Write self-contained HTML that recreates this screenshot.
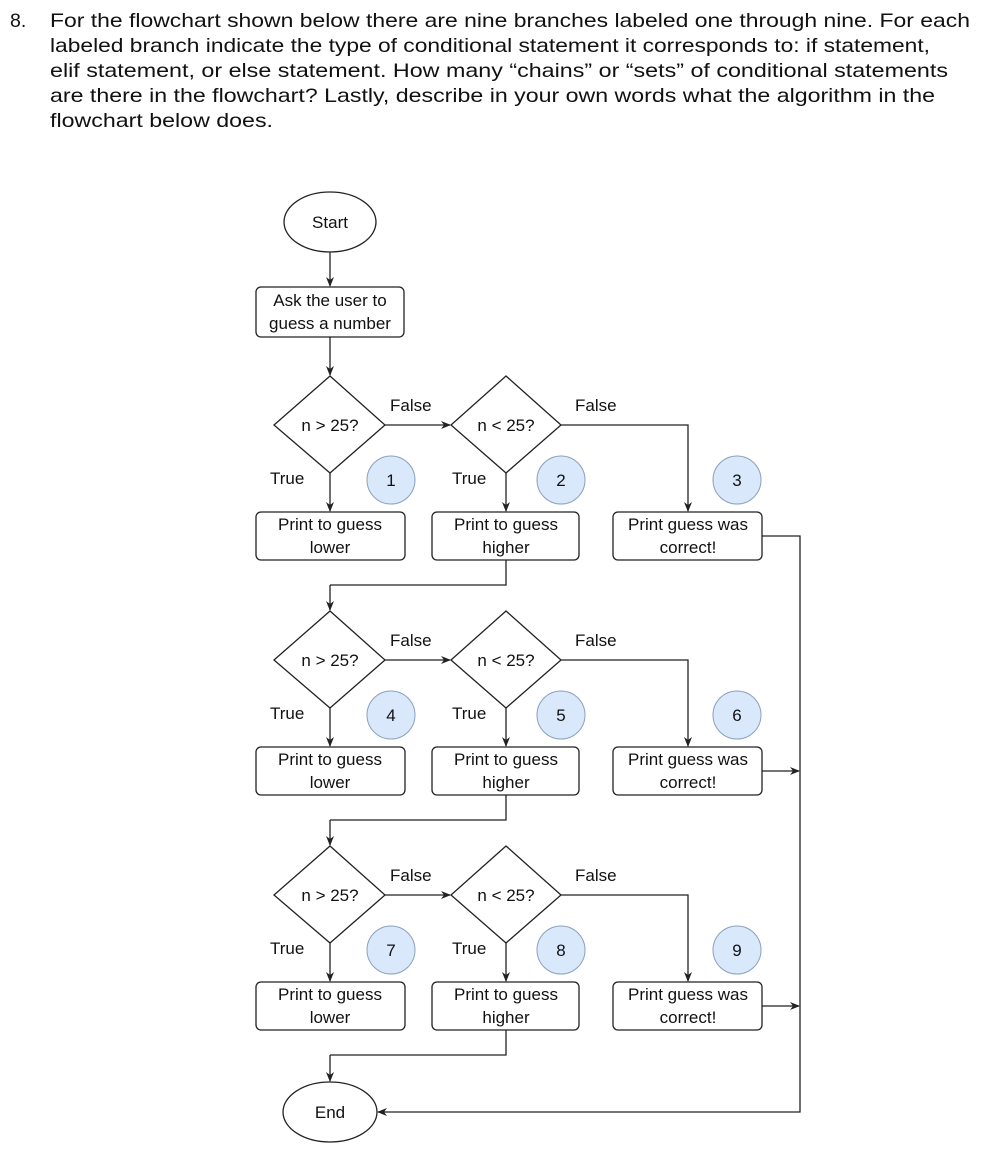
<!DOCTYPE html>
<html><head><meta charset="utf-8"><style>
html,body{margin:0;padding:0;background:#fff}
svg{display:block}
text{font-family:"Liberation Sans",Arial,sans-serif;fill:#111}
</style></head><body>
<svg width="984" height="1150" viewBox="0 0 984 1150" xmlns="http://www.w3.org/2000/svg">
<defs>
<marker id="a" markerWidth="10" markerHeight="10" refX="9" refY="5" orient="auto" markerUnits="userSpaceOnUse">
<path d="M0,1 L10,5 L0,9 L3,5 Z" fill="#222"/></marker>
</defs>
<g font-size="19.5">
<text x="10" y="27">8.</text>
<text x="50" y="27" textLength="920" lengthAdjust="spacingAndGlyphs">For the flowchart shown below there are nine branches labeled one through nine. For each</text>
<text x="50" y="52" textLength="880" lengthAdjust="spacingAndGlyphs">labeled branch indicate the type of conditional statement it corresponds to: if statement,</text>
<text x="50" y="77" textLength="898" lengthAdjust="spacingAndGlyphs">elif statement, or else statement. How many “chains” or “sets” of conditional statements</text>
<text x="50" y="102" textLength="885" lengthAdjust="spacingAndGlyphs">are there in the flowchart? Lastly, describe in your own words what the algorithm in the</text>
<text x="50" y="127" textLength="223" lengthAdjust="spacingAndGlyphs">flowchart below does.</text>
</g>
<g stroke="#222" stroke-width="1.3" fill="none">
<ellipse cx="330" cy="222" rx="46" ry="30" fill="#fff"/>
<rect x="256" y="287" width="148" height="50" rx="5" fill="#fff"/>
<line x1="330" y1="252" x2="330" y2="286" marker-end="url(#a)"/>
<line x1="330" y1="337" x2="330" y2="375" marker-end="url(#a)"/>
<ellipse cx="330" cy="1112" rx="47" ry="30" fill="#fff"/>
<polyline points="762,536 800,536 800,1112 378,1112" marker-end="url(#a)"/>
</g>
<text x="330" y="228" font-size="17" text-anchor="middle">Start</text>
<text x="330" y="306" font-size="17" text-anchor="middle">Ask the user to</text>
<text x="330" y="329" font-size="17" text-anchor="middle">guess a number</text>
<text x="330" y="1118" font-size="17" text-anchor="middle">End</text>

<g id="row">
<g stroke="#222" stroke-width="1.3" fill="none">
<polygon points="330,376 385,425 330,473 274,425" fill="#fff"/>
<polygon points="506,376 561,425 506,473 451,425" fill="#fff"/>
<line x1="385" y1="425" x2="450" y2="425" marker-end="url(#a)"/>
<polyline points="561,425 688,425 688,511" marker-end="url(#a)"/>
<line x1="330" y1="473" x2="330" y2="511" marker-end="url(#a)"/>
<line x1="506" y1="473" x2="506" y2="511" marker-end="url(#a)"/>
<rect x="256" y="512" width="149" height="48" rx="5" fill="#fff"/>
<rect x="432" y="512" width="147" height="48" rx="5" fill="#fff"/>
<rect x="613" y="512" width="149" height="48" rx="5" fill="#fff"/>
<polyline points="506,560 506,585 330,585"/>
</g>
<g fill="#dae8fc" stroke="#8aa0bb" stroke-width="1">
<circle cx="391" cy="480" r="24"/><circle cx="561" cy="480" r="24"/><circle cx="737" cy="480" r="24"/>
</g>
<g font-size="17">
<text x="330" y="431" text-anchor="middle">n &gt; 25?</text>
<text x="506" y="431" text-anchor="middle">n &lt; 25?</text>
<text x="390" y="411">False</text>
<text x="575" y="411">False</text>
<text x="270" y="484">True</text>
<text x="452" y="484">True</text>
<text x="330" y="530" text-anchor="middle">Print to guess</text>
<text x="330" y="553" text-anchor="middle">lower</text>
<text x="506" y="530" text-anchor="middle">Print to guess</text>
<text x="506" y="553" text-anchor="middle">higher</text>
<text x="688" y="530" text-anchor="middle">Print guess was</text>
<text x="688" y="553" text-anchor="middle">correct!</text>
</g>
</g>
<g font-size="17" text-anchor="middle">
<text x="391" y="486">1</text><text x="561" y="486">2</text><text x="737" y="486">3</text>
</g>

<g transform="translate(0,235)">
<use href="#row"/>
<g stroke="#222" stroke-width="1.3" fill="none">
<line x1="330" y1="350" x2="330" y2="375" marker-end="url(#a)"/>
<line x1="762" y1="536" x2="799" y2="536" marker-end="url(#a)"/>
</g>
<g font-size="17" text-anchor="middle">
<text x="391" y="486">4</text><text x="561" y="486">5</text><text x="737" y="486">6</text>
</g>
</g>
<g transform="translate(0,470)">
<use href="#row"/>
<g stroke="#222" stroke-width="1.3" fill="none">
<line x1="330" y1="350" x2="330" y2="375" marker-end="url(#a)"/>
<line x1="762" y1="536" x2="799" y2="536" marker-end="url(#a)"/>
<line x1="330" y1="585" x2="330" y2="611" marker-end="url(#a)"/>
</g>
<g font-size="17" text-anchor="middle">
<text x="391" y="486">7</text><text x="561" y="486">8</text><text x="737" y="486">9</text>
</g>
</g>
</svg>
</body></html>
